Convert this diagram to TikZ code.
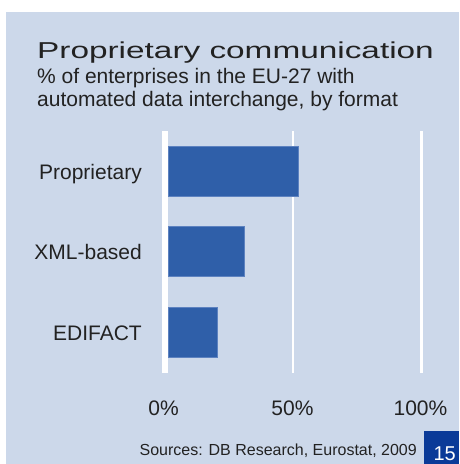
\documentclass[tikz,border=0pt]{standalone}
\usepackage{fontspec}
\setmainfont{Liberation Sans}
\newfontfamily\titlefont[FakeStretch=1.45]{Liberation Sans}

\definecolor{panel}{HTML}{CCD8EA}
\definecolor{barblue}{HTML}{2F5FA9}
\definecolor{baredge}{HTML}{5D82C0}
\definecolor{pageblue}{HTML}{0A3A98}
\definecolor{ink}{HTML}{222222}

\begin{document}
\begin{tikzpicture}[x=1pt,y=-1pt]

        \useasboundingbox (0,0) rectangle (459,464);
        \fill[panel] (6,12) rectangle (459,464);

        % grid lines for 0%, 50% and 100%
        \begin{scope}[white]
          \fill (162,131) rectangle (168,373);
          \fill (291.8,131) rectangle (294.2,373);
          \fill (420.2,131) rectangle (422.6,373);
        \end{scope}

        % bars, 2.55pt per percent
        \begin{scope}[every node/.style={fill=barblue, draw=baredge, line width=.8pt,
            anchor=west, inner sep=0pt, minimum height=50pt}]
          \node[minimum width=130pt] (prop) at (168,171.3) {};
          \node[minimum width=76pt]  (xml)  at (168,251.7) {};
          \node[minimum width=48.5pt] (edi) at (168,332.3) {};
        \end{scope}

        \begin{scope}[every node/.style={text=ink, inner sep=0pt, font=\fontsize{21}{23}\selectfont}]
          \node[anchor=base west, font=\titlefont\fontsize{23}{25}\selectfont] (title) at (37,58) {Proprietary communication};
          \node[anchor=base west] (sub1) at (37,83)  {\% of enterprises in the EU-27 with};
          \node[anchor=base west] (sub2) at (37,106) {automated data interchange, by format};

          \node[anchor=base east] (lprop) at (142,179.3) {Proprietary};
          \node[anchor=base east] (lxml)  at (142,259.3) {XML-based};
          \node[anchor=base east] (ledi)  at (142,340)   {EDIFACT};

          \node[anchor=base] (t0)   at (163.5,415) {0\%};
          \node[anchor=base] (t50)  at (292.5,415) {50\%};
          \node[anchor=base] (t100) at (420.5,415) {100\%};

          \node[anchor=base east, font=\fontsize{16}{18}\selectfont] (src) at (417,455) {Sources: DB Research, Eurostat, 2009};
        \end{scope}

        % page number
        \fill[pageblue] (424,431.3) rectangle (459,464);
        \node[anchor=base, text=white, inner sep=0pt, font=\fontsize{20}{22}\selectfont] (page) at (444.7,460) {15};

      \end{tikzpicture}
\end{document}
